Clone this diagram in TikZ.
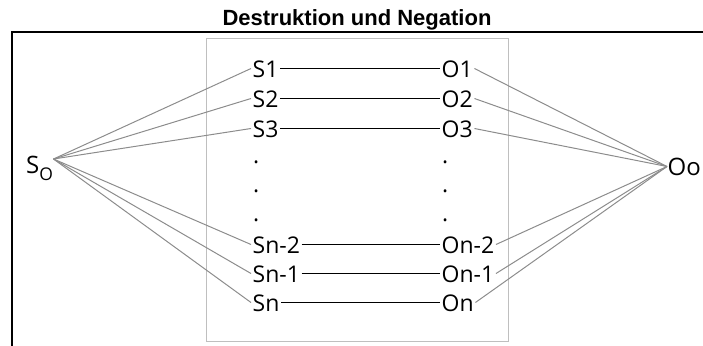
\documentclass[tikz,border=0pt]{standalone}
\usepackage{fontspec}
\setmainfont{Open Sans}
\newfontfamily\titlefont{Liberation Sans}
\begin{document}
\begin{tikzpicture}[x=1pt,y=-1pt,
  lab/.style={inner xsep=1.5pt,inner ysep=0pt,text height=17pt,text depth=0pt,anchor=base west,font=\fontsize{23}{26}\selectfont},
  dotlab/.style={inner sep=0pt,anchor=base west,font=\fontsize{23}{26}\selectfont},
  pair/.style={draw=black,line width=1.1pt},
  fan/.style={draw=black!45,line width=1pt},
  frame/.style={draw=black,line width=2.2pt},
  inbox/.style={draw=black!25,line width=1.4pt}]
\useasboundingbox (0,0) rectangle (703,345);
\node[anchor=base,inner sep=0pt,font=\titlefont\bfseries\fontsize{22}{26}\selectfont] (title) at (357,26) {Destruktion und Negation};
\draw[frame] (12,347) -- (12,32) -- (705,32);
\node[inbox,minimum width=302pt,minimum height=303pt,anchor=north west,inner sep=0pt] (box) at (206,38) {};
% left column
\node[lab] (s1) at (251,77) {S1};
\node[lab] (s2) at (251,107) {S2};
\node[lab] (s3) at (251,137) {S3};
\node[lab] (s4) at (251,253) {Sn-2};
\node[lab] (s5) at (251,282) {Sn-1};
\node[lab] (s6) at (251,311) {Sn};
% right column
\node[lab] (o1) at (440,77) {O1};
\node[lab] (o2) at (440,107) {O2};
\node[lab] (o3) at (440,137) {O3};
\node[lab] (o4) at (440,253) {On-2};
\node[lab] (o5) at (440,282) {On-1};
\node[lab] (o6) at (440,311) {On};
% dots
\node[dotlab] (dl1) at (253,163) {.};
\node[dotlab] (dl2) at (253,192) {.};
\node[dotlab] (dl3) at (253,221) {.};
\node[dotlab] (dr1) at (442,163) {.};
\node[dotlab] (dr2) at (442,192) {.};
\node[dotlab] (dr3) at (442,221) {.};
% ends
\node[inner sep=0pt,anchor=base west,font=\fontsize{24}{28}\selectfont] (so) at (26,173) {S\raisebox{-7.5pt}{\fontsize{17.5}{20}\selectfont O}};
\coordinate (sop) at (53.5,159);
\node[lab,font=\fontsize{24}{28}\selectfont,inner xsep=0.5pt] (oo) at (667,175) {Oo};
\foreach \i in {1,...,6}{
  \draw[pair] (s\i.east) -- (o\i.west);
  \draw[fan] (sop) -- (s\i.west);
  \draw[fan] (o\i.east) -- (oo.west);
}
\end{tikzpicture}
\end{document}
